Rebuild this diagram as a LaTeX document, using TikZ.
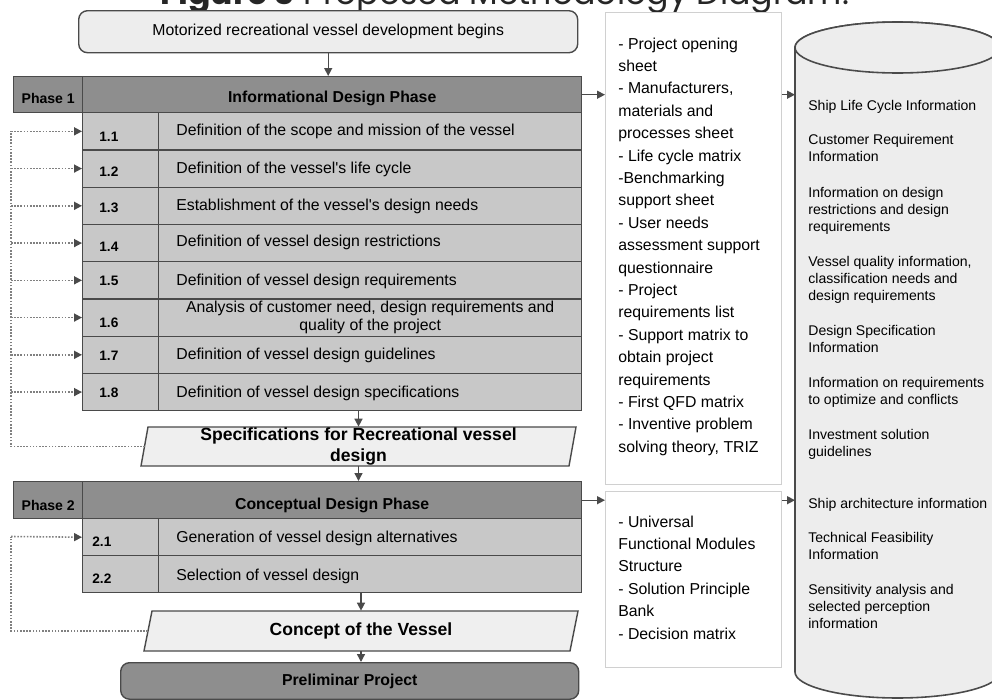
\documentclass[tikz,border=0pt]{standalone}
\usepackage{fontspec}
\setmainfont{Liberation Sans}
\newfontfamily\titlefont{Poppins}
\usetikzlibrary{arrows.meta,calc}
\definecolor{edge}{HTML}{4A4A4A}
\definecolor{hdrgray}{HTML}{8E8E8E}
\definecolor{rowgray}{HTML}{C8C8C8}
\definecolor{lightfill}{HTML}{EDEDED}
\definecolor{parafill}{HTML}{EFEFEF}
\definecolor{midedge}{HTML}{D0D0D0}
\definecolor{dotgray}{HTML}{808080}
\newcommand\tlines[1]{\begin{tabular}[t]{@{}l@{}}#1\end{tabular}}
\begin{document}
\begin{tikzpicture}[x=0.02cm,y=0.02cm,
  sz/.style 2 args={minimum width=#1*0.02cm, minimum height=#2*0.02cm},
  cell/.style={draw=edge, line width=0.8pt, inner sep=0pt, anchor=north west},
  hdrcell/.style={cell, fill=hdrgray},
  rowcell/.style={cell, fill=rowgray},
  midbox/.style={draw=midedge, fill=white, line width=0.8pt, inner sep=0pt, anchor=north west},
  rowtext/.style={font=\fontsize{9}{11}\selectfont, anchor=west, inner sep=0pt},
  numtext/.style={font=\bfseries\fontsize{7.8}{9}\selectfont, anchor=west, inner sep=0pt},
  hdtext/.style={font=\bfseries\fontsize{9}{11}\selectfont, inner sep=0pt},
  phtext/.style={font=\bfseries\fontsize{8}{10}\selectfont, inner sep=0pt},
  paratext/.style={font=\bfseries\fontsize{10}{11.9}\selectfont, inner sep=0pt, align=center},
  parashape/.style={draw=edge, fill=parafill, line width=0.8pt},
  midtext/.style={font=\fontsize{9}{12.75}\selectfont, anchor=base west, inner sep=0pt},
  cyltext/.style={font=\fontsize{8}{9.8}\selectfont, anchor=base west, inner sep=0pt},
  arr/.style={draw=edge, line width=0.8pt, -{Triangle[length=4.5pt,width=4.5pt]}},
  fb/.style={draw=dotgray, line width=0.9pt, dash pattern=on 0.9pt off 0.9pt},
  fbarr/.style={fb, -{Triangle[length=4.5pt,width=4.5pt,color=edge,fill=edge]}},
  cylstyle/.style={draw=edge, fill=lightfill, line width=0.9pt}
]
\useasboundingbox (0,0) rectangle (992,-700);

% title (cut by the page top)
\node[anchor=base west, inner sep=0pt, font=\titlefont\fontsize{18.9}{22}\selectfont, text=black!85] (title) at (160,-4) {\textbf{Figure 3} Proposed Methodology Diagram.};

% start box
\node[cell, rounded corners=5pt, fill=lightfill, sz={499}{42}, font=\fontsize{9}{11}\selectfont] (start) at (78,-10) {Motorized recreational vessel development begins};

% phase 1 header
\node[hdrcell, sz={69}{36}] (ph1) at (13,-76) {};
\node[hdrcell, sz={499}{36}] (hd1) at (82,-76) {};
\node[phtext] (ph1t) at ($(ph1.center)+(0,-4)$) {Phase 1};
\node[hdtext] (hd1t) at ($(hd1.center)+(0,-4)$) {Informational Design Phase};

% phase 1 rows
\foreach \i/\dn in {1/5,2/3,3/2,4/4,5/1,6/5,7/1,8/1}{
  \pgfmathsetmacro\rt{112+37.25*(\i-1)}
  \node[rowcell, sz={76}{37.25}] (n\i) at (82,-\rt) {};
  \node[rowcell, sz={423}{37.25}] (t\i) at (158,-\rt) {};
  \node[numtext] (nt\i) at ($(n\i.west)+(17,-\dn)$) {1.\i};
}
\node[rowtext] (tt1) at ($(t1.west)+(18,0)$) {Definition of the scope and mission of the vessel};
\node[rowtext] (tt2) at ($(t2.west)+(18,-1)$) {Definition of the vessel\textquotesingle s life cycle};
\node[rowtext] (tt3) at ($(t3.west)+(18,-1)$) {Establishment of the vessel\textquotesingle s design needs};
\node[rowtext] (tt4) at ($(t4.west)+(18,1)$) {Definition of vessel design restrictions};
\node[rowtext] (tt5) at ($(t5.west)+(18,-1)$) {Definition of vessel design requirements};
\node[font=\fontsize{9}{10.3}\selectfont, align=center, inner sep=0pt] (tt6) at ($(t6.center)+(0,0)$) {Analysis of customer need, design requirements and\\ quality of the project};
\node[rowtext] (tt7) at ($(t7.west)+(18,-1)$) {Definition of vessel design guidelines};
\node[rowtext] (tt8) at ($(t8.west)+(18,-1)$) {Definition of vessel design specifications};

% parallelogram 1
\draw[parashape] (141,-466) -- (148,-427) -- (576,-427) -- (569,-466) -- cycle;
\node[paratext, sz={428}{39}] (para1) at (358.5,-446.5) {Specifications for Recreational vessel\\ design};
\coordinate (p1l) at (145,-446.5);

% phase 2 header
\node[hdrcell, sz={69}{37}] (ph2) at (13,-481) {};
\node[hdrcell, sz={499}{37}] (hd2) at (82,-481) {};
\node[phtext] (ph2t) at ($(ph2.center)+(0,-5)$) {Phase 2};
\node[hdtext] (hd2t) at ($(hd2.center)+(0,-5)$) {Conceptual Design Phase};

% phase 2 rows
\node[rowcell, sz={76}{37}] (m1) at (82,-518) {};
\node[rowcell, sz={423}{37}] (u1) at (158,-518) {};
\node[rowcell, sz={76}{37}] (m2) at (82,-555) {};
\node[rowcell, sz={423}{37}] (u2) at (158,-555) {};
\node[numtext] (mt1n) at ($(m1.west)+(10,-5)$) {2.1};
\node[numtext] (mt2n) at ($(m2.west)+(10,-5)$) {2.2};
\node[rowtext] (ut1) at ($(u1.west)+(18,-1)$) {Generation of vessel design alternatives};
\node[rowtext] (ut2) at ($(u2.west)+(18,-2)$) {Selection of vessel design};

% parallelogram 2
\draw[parashape] (144,-651) -- (152,-611) -- (578,-611) -- (570,-651) -- cycle;
\node[paratext, sz={426}{40}] (para2) at (361,-631) {Concept of the Vessel};
\coordinate (p2l) at (148,-631);

% preliminar project
\node[hdrcell, rounded corners=5pt, sz={458}{36.5}, font=\bfseries\fontsize{9}{11}\selectfont] (prelim) at (120,-662) {Preliminar Project};

% middle boxes
\node[midbox, sz={176}{472}] (mid1) at (605,-12) {};
\node[midbox, sz={176}{176}] (mid2) at (605,-491) {};
\node[midtext] (mid1t) at (618,-49) {\tlines{- Project opening\\ sheet\\ - Manufacturers,\\ materials and\\ processes sheet\\ - Life cycle matrix\\ -Benchmarking\\ support sheet\\ - User needs\\ assessment support\\ questionnaire\\ - Project\\ requirements list\\ - Support matrix to\\ obtain project\\ requirements\\ - First QFD matrix\\ - Inventive problem\\ solving theory, TRIZ}};
\node[midtext] (mid2t) at (618,-527) {\tlines{- Universal\\ Functional Modules\\ Structure\\ - Solution Principle\\ Bank\\ - Decision matrix}};

% cylinder
\coordinate (cylL) at (795,-47.5);
\filldraw[cylstyle] (795,-47.5) -- (795,-672) arc[start angle=180, end angle=360, x radius=2.052cm, y radius=0.52cm] -- (1000.2,-47.5) arc[start angle=0, end angle=180, x radius=2.052cm, y radius=0.51cm] -- cycle;
\draw[cylstyle] (897.6,-47.5) ellipse[x radius=2.052cm, y radius=0.51cm];
\node[cyltext] (c1) at (808,-110) {\tlines{Ship Life Cycle Information}};
\node[cyltext] (c2) at (808,-144) {\tlines{Customer Requirement\\ Information}};
\node[cyltext] (c3) at (808,-197) {\tlines{Information on design\\ restrictions and design\\ requirements}};
\node[cyltext] (c4) at (808,-266) {\tlines{Vessel quality information,\\ classification needs and\\ design requirements}};
\node[cyltext] (c5) at (808,-335) {\tlines{Design Specification\\ Information}};
\node[cyltext] (c6) at (808,-387) {\tlines{Information on requirements\\ to optimize and conflicts}};
\node[cyltext] (c7) at (808,-439) {\tlines{Investment solution\\ guidelines}};
\node[cyltext] (c8) at (808,-508) {\tlines{Ship architecture information}};
\node[cyltext] (c9) at (808,-542) {\tlines{Technical Feasibility\\ Information}};
\node[cyltext] (c10) at (808,-594) {\tlines{Sensitivity analysis and\\ selected perception\\ information}};

% main flow arrows
\draw[arr] (start.south) -- (start.south |- hd1.north);
\draw[arr] (para1.north |- t8.south) -- (para1.north);
\draw[arr] (para1.south) -- (para1.south |- hd2.north);
\draw[arr] (para2.north |- u2.south) -- (para2.north);
\draw[arr] (para2.south) -- (para2.south |- prelim.north);

% side arrows
\draw[arr] (hd1.east) -- (hd1.east -| mid1.west);
\draw[arr] (hd1.east -| mid1.east) -- (hd1.east -| cylL);
\draw[arr] (hd2.east) -- (hd2.east -| mid2.west);
\draw[arr] (hd2.east -| mid2.east) -- (hd2.east -| cylL);

% feedback loops
\coordinate (fbtop) at (11,-130.6);
\draw[fb] (p1l) -| (fbtop);
\foreach \i in {1,...,8}{
  \draw[fbarr] (fbtop |- n\i.west) -- (n\i.west);
}
\coordinate (fbtop2) at (11,-536.5);
\draw[fb] (p2l) -| (fbtop2);
\draw[fbarr] (fbtop2) -- (m1.west);
\end{tikzpicture}
\end{document}
